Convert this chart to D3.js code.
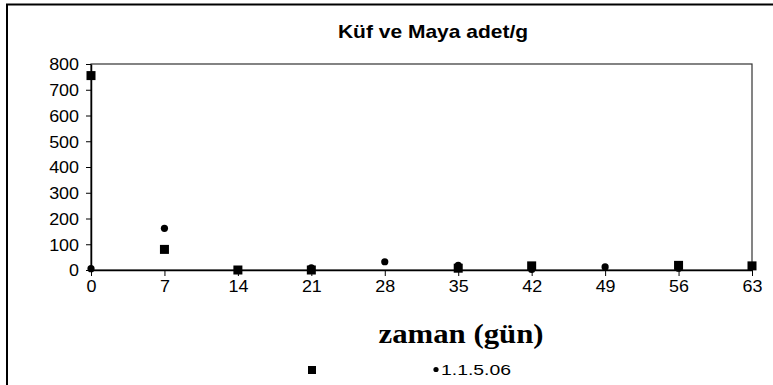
<!DOCTYPE html>
<html>
<head>
<meta charset="utf-8">
<script src="https://cdn.jsdelivr.net/npm/d3@7"></script>
<style>
  html, body { margin: 0; padding: 0; background: #fff; }
  svg { display: block; }
</style>
</head>
<body>
<svg id="chart" width="773" height="385"></svg>
<script>
// Sampling days
const days = [0, 7, 14, 21, 28, 35, 42, 49, 56, 63];
// First series (square markers); no sample on days 28 and 49
const seriesSquare = [755, 80, 0, 0, null, 7, 16, null, 18, 16];
// Series "1.1.5.06" (round markers)
const seriesCircle = [5, 162, 1, 8, 32, 18, 2, 12, 7, 15];
const xTicks = [0, 7, 14, 21, 28, 35, 42, 49, 56, 63];
const yTicks = [0, 100, 200, 300, 400, 500, 600, 700, 800];
const titleText = "Küf ve Maya adet/g";
const xTitle = "zaman (gün)";
const legendNames = ["", "1.1.5.06"];

const SANS = "Arial, 'Liberation Sans', sans-serif";
const SERIF = "'Times New Roman', 'Liberation Serif', serif";
const SX = 1.12; // horizontal widening of the tick labels

const svg = d3.select("#chart");
const W = 773, H = 385;
const plot = { left: 91, right: 752, top: 64, bottom: 270 };

svg.append("rect").attr("width", W).attr("height", H).attr("fill", "#fff");

// outer chart frame (runs off the right and bottom edges)
svg.append("rect")
  .attr("x", 7).attr("y", 4.5).attr("width", 820).attr("height", 420)
  .attr("fill", "none").attr("stroke", "#000").attr("stroke-width", 2);

const x = d3.scaleLinear().domain([0, 63]).range([plot.left, plot.right]);
const y = d3.scaleLinear().domain([0, 800]).range([plot.bottom, plot.top]);

// plot area border
svg.append("rect")
  .attr("x", plot.left).attr("y", plot.top)
  .attr("width", plot.right - plot.left).attr("height", plot.bottom - plot.top)
  .attr("fill", "none").attr("stroke", "#333").attr("stroke-width", 1.2);

// axes
const yAxis = svg.append("g")
  .attr("transform", `translate(${plot.left},0)`)
  .call(d3.axisLeft(y).tickValues(yTicks).tickSize(5).tickSizeOuter(0));
const xAxis = svg.append("g")
  .attr("transform", `translate(0,${plot.bottom})`)
  .call(d3.axisBottom(x).tickValues(xTicks).tickSize(6).tickSizeOuter(0));

[yAxis, xAxis].forEach(g => {
  g.select(".domain").attr("stroke", "#000").attr("stroke-width", 1.5);
  g.selectAll(".tick line").attr("stroke", "#000").attr("stroke-width", 1);
  g.selectAll(".tick text")
    .style("font-family", SANS).attr("font-size", 16).attr("fill", "#000");
});
yAxis.selectAll(".tick text")
  .attr("x", -12 / SX).attr("dy", "0.36em")
  .attr("transform", `scale(${SX},1)`);
xAxis.selectAll(".tick text")
  .attr("y", 22).attr("dy", 0)
  .attr("transform", `scale(${SX},1)`);

// data markers
const pts = days.map((d, i) => ({ d, sq: seriesSquare[i], ci: seriesCircle[i] }));
svg.append("g").selectAll("circle")
  .data(pts.filter(p => p.ci !== null))
  .join("circle")
  .attr("cx", p => x(p.d)).attr("cy", p => y(p.ci)).attr("r", 3.6).attr("fill", "#000");
const s = 9;
svg.append("g").selectAll("rect")
  .data(pts.filter(p => p.sq !== null))
  .join("rect")
  .attr("x", p => x(p.d) - s / 2).attr("y", p => y(p.sq) - s / 2)
  .attr("width", s).attr("height", s).attr("fill", "#000");

// chart title
svg.append("text")
  .attr("transform", `translate(433,38) scale(1.2,1)`)
  .attr("text-anchor", "middle")
  .style("font-family", SANS).attr("font-size", 17.5).attr("font-weight", "bold")
  .text(titleText);

// x axis title
svg.append("text")
  .attr("transform", `translate(461,343) scale(1.1,1)`)
  .attr("text-anchor", "middle")
  .style("font-family", SERIF).attr("font-size", 28).attr("font-weight", "bold")
  .text(xTitle);

// legend
const lg = svg.append("g");
lg.append("rect").attr("x", 308).attr("y", 366).attr("width", 8).attr("height", 8).attr("fill", "#000");
lg.append("text").attr("transform", "translate(320,375) scale(1.25,1)")
  .style("font-family", SANS).attr("font-size", 15.5).text(legendNames[0]);
lg.append("circle").attr("cx", 436).attr("cy", 369.5).attr("r", 2.6).attr("fill", "#000");
lg.append("text").attr("transform", "translate(441,375) scale(1.25,1)")
  .style("font-family", SANS).attr("font-size", 15.5).text(legendNames[1]);
</script>
</body>
</html>
